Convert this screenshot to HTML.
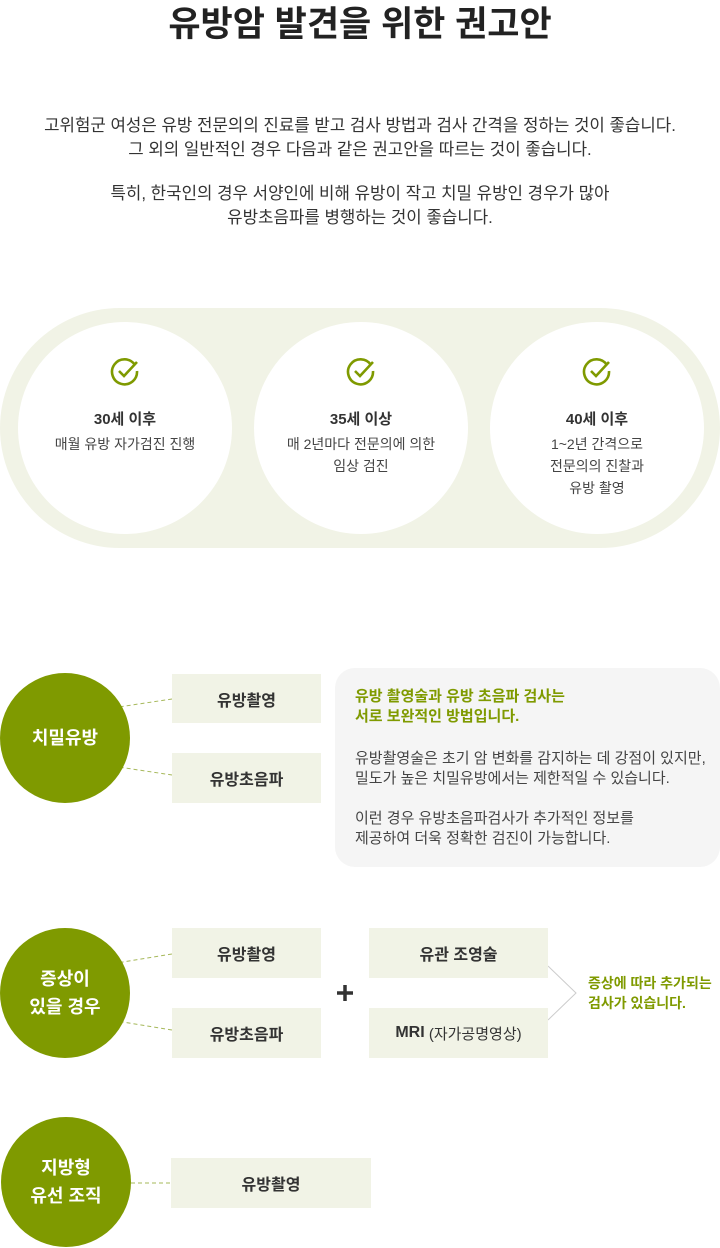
<!DOCTYPE html>
<html><head><meta charset="utf-8"><style>
*{margin:0;padding:0;box-sizing:border-box}
body{width:720px;height:1248px;position:relative;background:#fff;font-family:"Liberation Sans","Noto Sans CJK KR",sans-serif;color:#333;overflow:hidden}
.a{position:absolute}
.c{text-align:center}
h1{position:absolute;left:0;width:720px;top:-4px;text-align:center;font-size:35px;font-weight:bold;color:#222}
.p{font-size:16.8px;line-height:24px;color:#333}
.circ{position:absolute;border-radius:50%;background:#fff;text-align:center}
.circ b{display:block;font-size:15px;color:#333;margin-top:17px}
.circ span{display:block;font-size:14px;line-height:22px;color:#444;margin-top:4px}
.g{position:absolute;border-radius:50%;background:#7f9a00;color:#fff;font-weight:bold;font-size:18px;line-height:28px;display:flex;align-items:center;justify-content:center;text-align:center}
.box{position:absolute;background:#f1f3e6;font-size:16px;font-weight:bold;color:#333;display:flex;align-items:center;justify-content:center}
</style></head><body>
<h1>유방암 발견을 위한 권고안</h1>
<div class="a c p" style="left:0;width:720px;top:114px">고위험군 여성은 유방 전문의의 진료를 받고 검사 방법과 검사 간격을 정하는 것이 좋습니다.<br>그 외의 일반적인 경우 다음과 같은 권고안을 따르는 것이 좋습니다.<div style="height:20px"></div>특히, 한국인의 경우 서양인에 비해 유방이 작고 치밀 유방인 경우가 많아<br>유방초음파를 병행하는 것이 좋습니다.</div>
<div class="a" style="left:0;top:308px;width:720px;height:240px;border-radius:120px;background:#f1f3e6"></div>
<svg width="0" height="0" style="position:absolute"><defs><symbol id="ck" viewBox="0 0 30 30"><path d="M25 9 A12.5 12.5 0 1 0 27 15" fill="none" stroke="#7f9a00" stroke-width="2.6"/><path d="M9 15 L14 20 L27 6" fill="none" stroke="#7f9a00" stroke-width="2.6"/></symbol></defs></svg>
<div class="circ" style="left:18px;top:322px;width:214px;height:212px"><svg width="30" height="30" style="margin-top:34px"><use href="#ck"/></svg><b>30세 이후</b><span>매월 유방 자가검진 진행</span></div>
<div class="circ" style="left:254px;top:322px;width:214px;height:212px"><svg width="30" height="30" style="margin-top:34px"><use href="#ck"/></svg><b>35세 이상</b><span>매 2년마다 전문의에 의한<br>임상 검진</span></div>
<div class="circ" style="left:490px;top:322px;width:214px;height:212px"><svg width="30" height="30" style="margin-top:34px"><use href="#ck"/></svg><b>40세 이후</b><span>1~2년 간격으로<br>전문의의 진찰과<br>유방 촬영</span></div>

<svg class="a" style="left:0;top:0" width="720" height="1248">
<g stroke="#a6b85a" stroke-width="1" stroke-dasharray="4,3" fill="none">
<line x1="92" y1="711" x2="172" y2="699"/><line x1="92" y1="763" x2="172" y2="775"/>
<line x1="92" y1="967" x2="172" y2="954"/><line x1="92" y1="1017" x2="172" y2="1030"/>
<line x1="131" y1="1183" x2="172" y2="1183"/>
</g>
<polyline points="548,966 576,993 548,1020" fill="none" stroke="#ccc" stroke-width="1"/>
<path d="M345 985v16M337 993h16" stroke="#333" stroke-width="3.5"/>
</svg>

<div class="g" style="left:0;top:673px;width:130px;height:130px">치밀유방</div>
<div class="box" style="left:172px;top:674px;width:149px;height:49px">유방촬영</div>
<div class="box" style="left:172px;top:753px;width:149px;height:50px">유방초음파</div>
<div class="a" style="left:335px;top:668px;width:385px;height:199px;background:#f5f5f5;border-radius:20px;padding:19px 0 0 20px;font-size:15px;line-height:20px;color:#444">
<div style="color:#7f9a00;font-weight:bold">유방 촬영술과 유방 초음파 검사는<br>서로 보완적인 방법입니다.</div><div style="height:22px"></div>유방촬영술은 초기 암 변화를 감지하는 데 강점이 있지만,<br>밀도가 높은 치밀유방에서는 제한적일 수 있습니다.<div style="height:20px"></div>이런 경우 유방초음파검사가 추가적인 정보를<br>제공하여 더욱 정확한 검진이 가능합니다.</div>

<div class="g" style="left:0;top:928px;width:130px;height:130px">증상이<br>있을 경우</div>
<div class="box" style="left:172px;top:928px;width:149px;height:50px">유방촬영</div>
<div class="box" style="left:172px;top:1008px;width:149px;height:50px">유방초음파</div>
<div class="box" style="left:369px;top:928px;width:179px;height:50px">유관 조영술</div>
<div class="box" style="left:369px;top:1008px;width:179px;height:50px">MRI <span style="font-weight:normal;font-size:15px">&nbsp;(자가공명영상)</span></div>
<div class="a" style="left:588px;top:973px;font-size:14px;line-height:20px;font-weight:bold;color:#7f9a00">증상에 따라 추가되는<br>검사가 있습니다.</div>

<div class="g" style="left:1px;top:1117px;width:130px;height:130px">지방형<br>유선 조직</div>
<div class="box" style="left:171px;top:1158px;width:200px;height:50px">유방촬영</div>
</body></html>
